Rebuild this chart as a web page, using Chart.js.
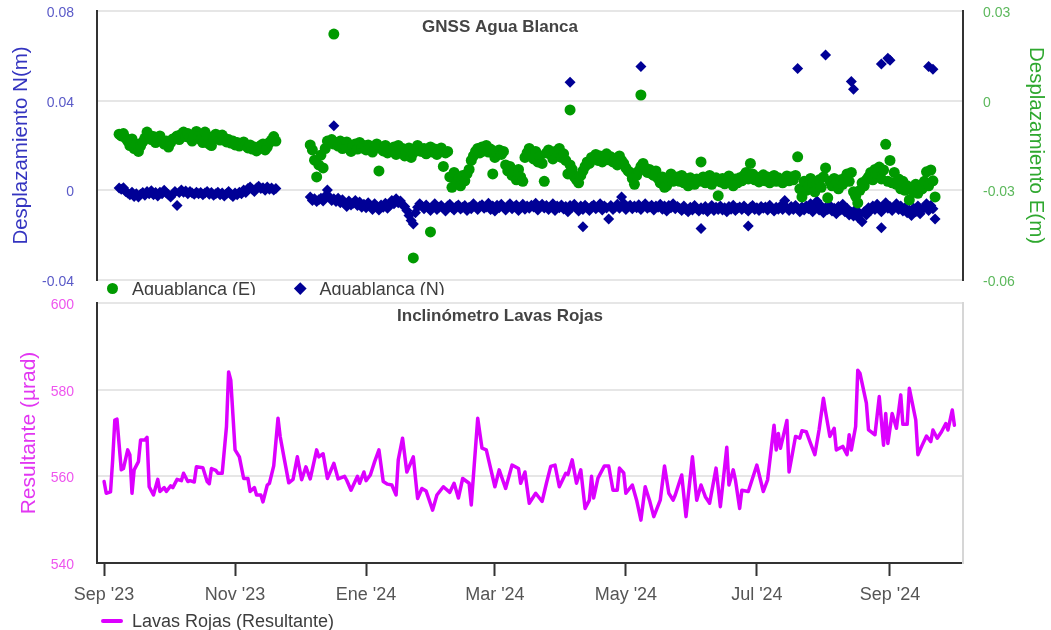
<!DOCTYPE html>
<html lang="es">
<head>
<meta charset="utf-8">
<title>GNSS Agua Blanca · Inclinómetro Lavas Rojas</title>
<script src="https://cdn.jsdelivr.net/npm/chart.js@4.4.1/dist/chart.umd.min.js"></script>
<style>
  html, body { margin: 0; padding: 0; background: #fff; overflow: hidden; width: 1051px; height: 630px; }
  .panel { position: absolute; left: 0; width: 1051px; overflow: hidden; background: #fff; }
  #panelSup { top: 0; height: 295px; z-index: 1; }
  #panelInf { top: 295px; height: 335px; z-index: 2; }
  canvas { position: absolute; left: 0; top: 0; }
  .leyenda { position: absolute; display: flex; align-items: center; height: 18px;
             font: 18px "Liberation Sans", Arial, Helvetica, sans-serif; color: #3d3d3d; white-space: nowrap; }
  .item { display: flex; align-items: center; margin-right: 35px; line-height: 18px; }
  .marca { display: flex; align-items: center; justify-content: center; height: 18px; }
  #leySup { left: 103.5px; top: 279.5px; }
  #leyInf { left: 101px; top: 316.5px; }
</style>
</head>
<body>
<div id="panelSup" class="panel">
  <canvas id="gnss" width="1051" height="295"></canvas>
  <div id="leySup" class="leyenda"></div>
</div>
<div id="panelInf" class="panel">
  <canvas id="lavas" width="1051" height="335"></canvas>
  <div id="leyInf" class="leyenda"></div>
</div>
<script>
// ---- Eje temporal: días contados desde el 1 de septiembre de 2023 ----
const fechaBase = Date.UTC(2023, 8, 1);
const diaDe = f => (Date.parse(f + 'T00:00:00Z') - fechaBase) / 864e5;

const fechasMes   = ['2023-09-01', '2023-11-01', '2024-01-01', '2024-03-01', '2024-05-01', '2024-07-01', '2024-09-01'];
const etiquetasMes = ["Sep '23", "Nov '23", "Ene '24", "Mar '24", "May '24", "Jul '24", "Sep '24"];
const diaMinimo = -3.3;
const diaMaximo = 400;

// ---- Marcas de los ejes Y ----
const ticksNorte = [-0.04, 0, 0.04, 0.08];
const ticksEste = [-0.06, -0.03, 0, 0.03];
const ticksResultante = [540, 560, 580, 600];

// ---- GNSS Agua Blanca: soluciones diarias (m), primer día = 7; null = sin datos ----
const diaInicioGnss = 7;
const esteDiario = [
  -0.0112,-0.0118,-0.0110,-0.0125,-0.0135,-0.0150,-0.0128,-0.0160,-0.0145,-0.0170,
  -0.0152,-0.0138,-0.0125,-0.0105,-0.0115,-0.0130,-0.0120,-0.0140,-0.0128,-0.0118,
  -0.0132,-0.0145,-0.0135,-0.0155,-0.0140,-0.0128,-0.0125,-0.0118,-0.0130,-0.0112,
  -0.0105,-0.0120,-0.0110,-0.0125,-0.0135,-0.0115,-0.0103,-0.0120,-0.0130,-0.0140,
  -0.0105,-0.0118,-0.0145,-0.0150,-0.0128,-0.0112,-0.0120,-0.0132,-0.0115,-0.0125,
  -0.0138,-0.0130,-0.0142,-0.0135,-0.0148,-0.0140,-0.0152,-0.0145,-0.0138,-0.0150,
  -0.0158,-0.0148,-0.0162,-0.0155,-0.0168,-0.0160,-0.0150,-0.0145,-0.0165,-0.0155,
  -0.0140,-0.0132,-0.0120,-0.0135,
  null,null,null,null,null,null,null,null,null,null,null,null,null,null,null,
  -0.0148,-0.0165,-0.0199,-0.0255,-0.0215,-0.0182,-0.0225,-0.0160,-0.0135,-0.0142,-0.0130,-0.0145,
  -0.0140,-0.0152,-0.0135,-0.0160,-0.0148,-0.0138,-0.0155,-0.0170,-0.0150,-0.0145,-0.0162,-0.0140,-0.0158,
  -0.0150,-0.0165,-0.0148,-0.0158,-0.0172,-0.0155,-0.0145,-0.0235,-0.0160,-0.0168,-0.0150,-0.0175,-0.0162,
  -0.0165,-0.0155,-0.0180,-0.0150,-0.0168,-0.0160,-0.0185,-0.0172,-0.0158,-0.0190,-0.0175,-0.0162,-0.0150,-0.0168,
  -0.0170,-0.0160,-0.0178,-0.0165,-0.0155,-0.0172,-0.0162,-0.0180,-0.0168,-0.0158,-0.0220,-0.0175,-0.0170,
  -0.0255,-0.0290,-0.0240,-0.0275,-0.0262,-0.0285,-0.0250,-0.0268,-0.0245,-0.0230,
  -0.0200,-0.0185,-0.0170,-0.0160,-0.0175,-0.0155,-0.0168,-0.0150,-0.0172,-0.0162,
  -0.0245,-0.0190,-0.0175,-0.0165,-0.0180,-0.0170,
  -0.0215,-0.0235,-0.0220,-0.0250,-0.0240,-0.0265,-0.0230,-0.0255,-0.0270,
  -0.0190,-0.0175,-0.0160,-0.0180,-0.0195,-0.0170,-0.0205,-0.0185,-0.0210,-0.0270,
  -0.0175,-0.0165,-0.0180,-0.0195,-0.0170,-0.0185,-0.0160,-0.0190,-0.0178,-0.0200,
  -0.0245,-0.0215,-0.0230,-0.0255,-0.0265,-0.0275,-0.0250,-0.0235,-0.0220,-0.0205,
  -0.0210,-0.0190,-0.0195,-0.0180,-0.0200,-0.0185,-0.0205,-0.0192,-0.0178,-0.0198,
  -0.0188,-0.0205,-0.0195,-0.0215,-0.0185,-0.0200,-0.0210,-0.0225,-0.0235,-0.0240,
  -0.0260,-0.0280,-0.0250,-0.0235,-0.0220,-0.0210,-0.0225,-0.0240,-0.0230,-0.0245,
  -0.0250,-0.0235,-0.0260,-0.0275,-0.0255,-0.0290,-0.0285,-0.0265,-0.0245,-0.0270,
  -0.0265,-0.0255,-0.0270,-0.0250,-0.0275,-0.0260,-0.0285,-0.0258,-0.0268,-0.0280,
  -0.0262,-0.0270,-0.0205,-0.0255,-0.0275,-0.0265,-0.0250,-0.0280,-0.0268,-0.0258,
  -0.0318,-0.0272,-0.0260,-0.0278,-0.0265,-0.0252,-0.0270,-0.0285,-0.0262,-0.0275,
  -0.0258,-0.0268,-0.0250,-0.0240,-0.0262,-0.0210,-0.0245,-0.0265,-0.0255,-0.0272,
  -0.0260,-0.0248,-0.0268,-0.0255,-0.0275,-0.0262,-0.0250,-0.0270,-0.0258,-0.0265,
  -0.0275,-0.0260,-0.0252,-0.0268,-0.0255,-0.0265,-0.0250,-0.0188,-0.0295,-0.0322,
  -0.0270,-0.0300,-0.0285,-0.0260,-0.0275,-0.0305,-0.0280,-0.0265,-0.0290,-0.0255,
  -0.0225,-0.0325,-0.0270,-0.0285,-0.0260,-0.0275,-0.0295,-0.0265,-0.0280,-0.0258,
  -0.0245,-0.0270,-0.0240,-0.0305,-0.0320,-0.0342,-0.0300,-0.0275,-0.0285,-0.0265,
  -0.0255,-0.0240,-0.0265,-0.0230,-0.0250,-0.0222,-0.0262,-0.0232,-0.0146,-0.0270,
  -0.0200,-0.0275,-0.0240,-0.0280,-0.0262,-0.0295,-0.0270,-0.0300,-0.0285,-0.0332,
  -0.0290,-0.0305,-0.0280,-0.0310,-0.0285,-0.0295,-0.0270,-0.0238,-0.0285,-0.0232,-0.0268,-0.0322
];
const norteDiario = [
  0.0010,0.0005,0.0012,-0.0005,-0.0012,-0.0020,-0.0008,-0.0028,-0.0015,-0.0030,
  -0.0018,-0.0010,-0.0022,-0.0005,-0.0015,-0.0002,-0.0020,-0.0010,-0.0025,-0.0008,
  -0.0015,0.0000,-0.0012,-0.0020,-0.0030,-0.0018,-0.0005,-0.0068,-0.0010,0.0002,
  -0.0008,-0.0003,-0.0015,-0.0005,-0.0012,-0.0018,-0.0008,-0.0015,-0.0010,-0.0020,
  -0.0012,-0.0005,-0.0018,-0.0010,-0.0022,-0.0015,-0.0008,-0.0020,-0.0012,-0.0025,
  -0.0015,-0.0005,-0.0018,-0.0028,-0.0012,-0.0020,-0.0008,-0.0015,0.0002,-0.0010,
  0.0008,0.0015,0.0005,-0.0005,0.0010,0.0018,0.0008,0.0012,0.0000,0.0015,
  0.0005,0.0010,0.0002,0.0008,
  null,null,null,null,null,null,null,null,null,null,null,null,null,null,null,
  -0.0030,-0.0045,-0.0038,-0.0050,-0.0042,-0.0035,-0.0048,-0.0025,0.0002,-0.0030,-0.0045,-0.0038,
  -0.0050,-0.0035,-0.0055,-0.0042,-0.0060,-0.0072,-0.0048,-0.0065,-0.0058,-0.0045,-0.0068,-0.0052,-0.0075,
  -0.0062,-0.0078,-0.0055,-0.0070,-0.0085,-0.0060,-0.0072,-0.0088,-0.0065,-0.0075,-0.0058,-0.0080,-0.0068,
  -0.0045,-0.0060,-0.0038,-0.0055,-0.0048,-0.0065,-0.0072,-0.0090,-0.0112,-0.0135,-0.0150,-0.0100,-0.0075,-0.0060,
  -0.0070,-0.0082,-0.0065,-0.0078,-0.0090,-0.0072,-0.0060,-0.0085,-0.0075,-0.0068,
  -0.0080,-0.0092,-0.0070,-0.0062,-0.0078,-0.0088,-0.0072,-0.0065,-0.0083,-0.0076,
  -0.0068,-0.0090,-0.0075,-0.0082,-0.0060,-0.0073,-0.0086,-0.0070,-0.0064,-0.0080,
  -0.0074,-0.0058,-0.0085,-0.0070,-0.0092,-0.0066,-0.0078,-0.0062,-0.0075,-0.0088,
  -0.0070,-0.0060,-0.0082,-0.0073,-0.0065,-0.0090,-0.0077,-0.0062,-0.0084,-0.0070,
  -0.0080,-0.0066,-0.0074,-0.0058,-0.0088,-0.0072,-0.0062,-0.0079,-0.0068,-0.0085,
  -0.0073,-0.0060,-0.0090,-0.0070,-0.0078,-0.0065,-0.0083,-0.0072,-0.0095,-0.0068,
  -0.0075,-0.0062,-0.0080,-0.0092,-0.0070,-0.0085,-0.0066,-0.0078,-0.0090,-0.0072,
  -0.0065,-0.0082,-0.0074,-0.0060,-0.0088,-0.0070,-0.0079,-0.0128,-0.0068,-0.0085,
  -0.0075,-0.0062,-0.0080,-0.0030,-0.0058,-0.0086,-0.0073,-0.0066,-0.0082,-0.0070,
  -0.0078,-0.0064,-0.0085,-0.0072,-0.0060,-0.0080,-0.0074,-0.0066,-0.0088,-0.0070,
  -0.0076,-0.0062,-0.0084,-0.0070,-0.0092,-0.0068,-0.0078,-0.0060,-0.0082,-0.0072,
  -0.0080,-0.0090,-0.0070,-0.0085,-0.0095,-0.0075,-0.0088,-0.0068,-0.0082,-0.0092,
  -0.0078,-0.0086,-0.0072,-0.0094,-0.0080,-0.0068,-0.0090,-0.0076,-0.0085,-0.0070,
  -0.0088,-0.0078,-0.0095,-0.0072,-0.0084,-0.0066,-0.0090,-0.0080,-0.0074,-0.0086,
  -0.0070,-0.0082,-0.0092,-0.0076,-0.0068,-0.0085,-0.0078,-0.0090,-0.0072,-0.0080,
  -0.0074,-0.0088,-0.0066,-0.0080,-0.0092,-0.0075,-0.0084,-0.0070,-0.0086,-0.0045,
  -0.0078,-0.0090,-0.0072,-0.0085,-0.0068,-0.0080,-0.0095,-0.0074,-0.0088,-0.0070,
  -0.0082,-0.0060,-0.0095,-0.0075,-0.0048,-0.0088,-0.0070,-0.0100,-0.0078,-0.0085,
  -0.0068,-0.0092,-0.0080,-0.0105,-0.0072,-0.0088,-0.0062,-0.0095,-0.0080,-0.0110,
  -0.0098,-0.0115,-0.0085,-0.0120,-0.0105,-0.0140,-0.0095,-0.0110,-0.0078,-0.0090,
  -0.0070,-0.0085,-0.0062,-0.0078,-0.0095,-0.0068,-0.0055,-0.0080,-0.0072,-0.0090,
  -0.0075,-0.0060,-0.0085,-0.0070,-0.0092,-0.0078,-0.0100,-0.0088,-0.0112,-0.0080,
  -0.0095,-0.0070,-0.0105,-0.0085,-0.0075,-0.0060,-0.0090,-0.0068,-0.0082,-0.0128
];
// Soluciones adicionales (valores atípicos)
const diasAtipicosEste = [107, 144, 152, 217, 250];
const valoresAtipicosEste = [0.0223, -0.0526, -0.0439, -0.0031, 0.0019];
const diasAtipicosNorte = [107, 217, 223, 250, 278, 300, 323, 336, 348, 349, 362, 362, 365, 366, 384, 386];
const valoresAtipicosNorte = [0.0288, 0.0482, -0.0162, 0.0552, -0.0170, -0.0159, 0.0544, 0.0604, 0.0485, 0.0451, 0.0564, -0.0167, 0.0589, 0.0580, 0.0552, 0.0540];

// ---- Inclinómetro Lavas Rojas: resultante (µrad) ----
const diasLavas = [
  0,1,3,4,5,6,8,9,11,12,13,14,16,17,19,20,21,23,25,26,28,29,31,32,34,36,37,39,40,42,
  43,46,48,49,50,52,53,55,57,58,59,61,63,65,67,68,70,71,73,74,76,77,79,81,82,84,86,88,90,92,
  94,96,99,100,102,104,107,109,112,113,115,118,119,121,122,124,126,128,130,132,134,136,137,139,141,144,146,148,150,153,
  155,158,161,163,165,167,170,171,174,176,178,182,184,187,190,193,194,196,198,201,204,206,208,210,212,215,216,218,220,222,
  224,226,227,228,230,233,235,237,239,240,242,243,246,248,250,252,254,256,259,261,263,265,266,269,271,274,276,278,280,282,
  285,287,290,291,293,294,296,297,300,304,307,309,312,313,314,315,318,319,322,324,325,327,329,331,333,335,336,338,340,341,
  344,346,347,348,350,351,352,355,356,359,361,363,364,365,367,369,371,372,374,375,378,379,381,383,385,386,388,390,392,393,
  395,396
];
const resultanteLavas = [
  558.8,556.1,556.4,563.8,573.0,573.2,561.5,561.8,566.1,565.0,556.1,561.5,563.4,568.4,568.4,569.0,557.6,555.7,559.3,556.5,557.4,556.5,557.8,557.4,559.3,559.0,560.7,558.8,559.0,558.7,
  562.2,562.0,558.8,558.3,561.8,561.4,560.7,560.7,571.5,584.1,582.2,566.1,564.5,559.5,559.5,556.5,557.4,555.7,555.7,554.1,558.0,558.4,562.4,573.4,569.2,563.8,558.5,559.3,564.5,559.2,
  562.2,559.4,566.1,564.5,565.2,559.5,563.0,559.4,560.0,559.1,556.8,560.0,558.4,561.0,559.0,560.3,563.4,566.1,558.8,558.2,558.0,555.7,563.8,568.8,561.0,564.5,554.9,557.2,556.6,552.2,
  555.7,557.6,556.3,558.4,555.0,559.5,558.4,553.4,573.4,566.5,566.1,557.6,561.5,557.2,562.6,561.8,558.4,561.0,553.8,556.1,554.2,558.4,562.3,562.6,557.6,560.7,560.4,563.8,558.4,561.5,
  552.6,554.5,560.0,555.0,559.6,562.4,562.4,556.8,556.8,561.9,560.8,556.1,558.0,554.5,549.9,557.6,554.5,550.7,554.5,562.4,556.1,554.5,555.7,560.3,550.7,564.5,554.5,558.0,555.3,553.8,
  561.9,553.0,566.7,558.0,561.5,559.2,552.6,556.8,556.5,562.6,556.5,559.2,571.8,566.1,569.9,566.5,572.9,561.0,569.2,568.8,570.5,570.3,567.6,565.0,570.8,578.0,574.9,569.2,571.1,566.1,
  566.9,565.0,569.6,566.1,571.5,584.5,583.8,576.9,570.7,569.6,578.4,567.2,574.5,567.6,574.5,571.1,578.8,572.0,572.0,580.3,573.0,565.0,567.2,569.3,568.0,570.7,568.8,570.3,572.2,570.7,
  575.3,571.8
];

// ---- Colores ----
const VERDE = '#009a00';
const AZUL = '#000096';
const MAGENTA = '#dc00ff';
const GRIS_REJILLA = '#e6e6e6';
const EJE = '#333333';

// ---- Construcción de los puntos ----
function serieDiaria(inicio, valores) {
  const pts = [];
  valores.forEach((v, i) => { if (v !== null) pts.push({ x: inicio + i, y: v }); });
  return pts;
}
const emparejar = (dias, valores) => dias.map((d, i) => ({ x: d, y: valores[i] }));

const puntosEste = serieDiaria(diaInicioGnss, esteDiario).concat(emparejar(diasAtipicosEste, valoresAtipicosEste));
const puntosNorte = serieDiaria(diaInicioGnss, norteDiario).concat(emparejar(diasAtipicosNorte, valoresAtipicosNorte));
const puntosLavas = emparejar(diasLavas, resultanteLavas);
const diasMes = fechasMes.map(diaDe);

// ---- Utilidades de ejes ----
Chart.defaults.font.family = '"Liberation Sans", Arial, Helvetica, sans-serif';
// Ancho fijo del eje y sin márgenes extra por las etiquetas extremas
const fijarAncho = w => scale => {
  scale.width = w;
  scale.paddingTop = 0; scale.paddingBottom = 0;
};
const fijarAlto = h => scale => {
  scale.height = h;
  scale.paddingLeft = 0; scale.paddingRight = 0;
};
const fijarTicks = vals => scale => { scale.ticks = vals.map(v => ({ value: v })); };

// Título dibujado dentro del área de trazado
const tituloInterno = {
  id: 'tituloInterno',
  afterDatasetsDraw(chart, args, opts) {
    const { ctx, chartArea } = chart;
    ctx.save();
    ctx.font = 'bold 17px "Liberation Sans", Arial, Helvetica, sans-serif';
    ctx.fillStyle = '#444444';
    ctx.textAlign = 'center';
    ctx.textBaseline = 'middle';
    ctx.fillText(opts.text, opts.x, chartArea.top + opts.dy);
    ctx.restore();
  }
};

// Leyenda en HTML a partir de los conjuntos de datos del gráfico
function crearLeyenda(chart, idContenedor) {
  const cont = document.getElementById(idContenedor);
  chart.data.datasets.forEach(ds => {
    const item = document.createElement('span');
    item.className = 'item';
    const marca = document.createElement('span');
    marca.className = 'marca';
    const forma = document.createElement('span');
    if (chart.config.type === 'line') {
      marca.style.width = '22px'; marca.style.marginRight = '9px';
      forma.style.cssText = 'display:block;width:22px;height:4px;border-radius:2px;background:' + ds.borderColor;
    } else if (ds.pointStyle === 'rectRot') {
      marca.style.width = '18px'; marca.style.marginRight = '10.5px';
      forma.style.cssText = 'display:block;width:8.5px;height:8.5px;transform:rotate(45deg);background:' + ds.backgroundColor;
    } else {
      marca.style.width = '18px'; marca.style.marginRight = '10.5px';
      forma.style.cssText = 'display:block;width:11px;height:11px;border-radius:50%;background:' + ds.backgroundColor;
    }
    marca.appendChild(forma);
    const texto = document.createElement('span');
    texto.textContent = ds.label;
    item.appendChild(marca);
    item.appendChild(texto);
    cont.appendChild(item);
  });
}

// ---- Panel superior: GNSS Agua Blanca ----
const graficoGnss = new Chart(document.getElementById('gnss'), {
  type: 'scatter',
  data: {
    datasets: [
      { label: 'Aguablanca (E)', data: puntosEste, yAxisID: 'yE', pointStyle: 'circle',
        pointRadius: 5.5, pointHoverRadius: 5.5, backgroundColor: VERDE, borderColor: VERDE, borderWidth: 0 },
      { label: 'Aguablanca (N)', data: puntosNorte, yAxisID: 'yN', pointStyle: 'rectRot',
        pointRadius: 5.5, pointHoverRadius: 5.5, backgroundColor: AZUL, borderColor: AZUL, borderWidth: 0 }
    ]
  },
  options: {
    responsive: false, animation: false, devicePixelRatio: 1,
    layout: { padding: { top: 11, bottom: 15, left: 0, right: 0 } },
    plugins: {
      legend: { display: false },
      tooltip: { enabled: false },
      tituloInterno: { text: 'GNSS Agua Blanca', x: 500, dy: 16.5 }
    },
    scales: {
      x: { type: 'linear', min: diaMinimo, max: diaMaximo, display: false },
      yN: {
        position: 'left', min: -0.04, max: 0.08,
        afterBuildTicks: fijarTicks(ticksNorte), afterFit: fijarAncho(97),
        ticks: { color: '#5a5ac8', font: { size: 14 }, padding: 23, labelOffset: 2, callback: v => String(v) },
        grid: { color: GRIS_REJILLA, lineWidth: 2, drawTicks: false },
        border: { color: EJE, width: 2 },
        title: { display: true, text: 'Desplazamiento N(m)', color: '#3434c0', font: { size: 20.5 }, padding: { top: 9.5 } }
      },
      yE: {
        position: 'right', min: -0.06, max: 0.03,
        afterBuildTicks: fijarTicks(ticksEste), afterFit: fijarAncho(88),
        ticks: { color: '#5cb85c', font: { size: 14 }, padding: 20, labelOffset: 2, callback: v => String(v) },
        grid: { drawOnChartArea: false, drawTicks: false },
        border: { color: EJE, width: 2 },
        title: { display: true, text: 'Desplazamiento E(m)', color: '#2fa82f', font: { size: 20.5 }, padding: { top: 3 } }
      }
    }
  },
  plugins: [tituloInterno]
});
crearLeyenda(graficoGnss, 'leySup');

// ---- Panel inferior: Inclinómetro Lavas Rojas ----
const graficoLavas = new Chart(document.getElementById('lavas'), {
  type: 'line',
  data: {
    datasets: [
      { label: 'Lavas Rojas (Resultante)', data: puntosLavas, yAxisID: 'y', borderColor: MAGENTA,
        backgroundColor: MAGENTA, borderWidth: 3.5, pointRadius: 0, pointHoverRadius: 0, tension: 0,
        borderJoinStyle: 'round', borderCapStyle: 'round', fill: false }
    ]
  },
  options: {
    responsive: false, animation: false, devicePixelRatio: 1,
    layout: { padding: { top: 8, bottom: 0, left: 0, right: 0 } },
    plugins: {
      legend: { display: false },
      tooltip: { enabled: false },
      tituloInterno: { text: 'Inclinómetro Lavas Rojas', x: 500, dy: 13.5 }
    },
    scales: {
      x: {
        type: 'linear', position: 'bottom', min: diaMinimo, max: diaMaximo,
        afterBuildTicks: fijarTicks(diasMes), afterFit: fijarAlto(67),
        ticks: { callback: (v, i) => etiquetasMes[i], color: '#555555', font: { size: 18 },
                 padding: 8, maxRotation: 0, autoSkip: false },
        grid: { drawOnChartArea: false, drawTicks: true, tickLength: 13, tickColor: EJE, tickWidth: 2 },
        border: { color: EJE, width: 2 }
      },
      y: {
        position: 'left', min: 540, max: 600,
        afterBuildTicks: fijarTicks(ticksResultante), afterFit: fijarAncho(97),
        ticks: { color: '#ee55ee', font: { size: 14 }, padding: 23, labelOffset: 2 },
        grid: { color: GRIS_REJILLA, lineWidth: 2, drawTicks: false },
        border: { color: EJE, width: 2 },
        title: { display: true, text: 'Resultante (µrad)', color: '#e236f2', font: { size: 21 }, padding: { top: 16.5 } }
      },
      yR: {
        position: 'right', min: 540, max: 600, afterFit: fijarAncho(88),
        ticks: { display: false },
        grid: { drawOnChartArea: false, drawTicks: false },
        border: { color: '#d6d6d6', width: 2 }
      }
    }
  },
  plugins: [tituloInterno]
});
crearLeyenda(graficoLavas, 'leyInf');
</script>
</body>
</html>
